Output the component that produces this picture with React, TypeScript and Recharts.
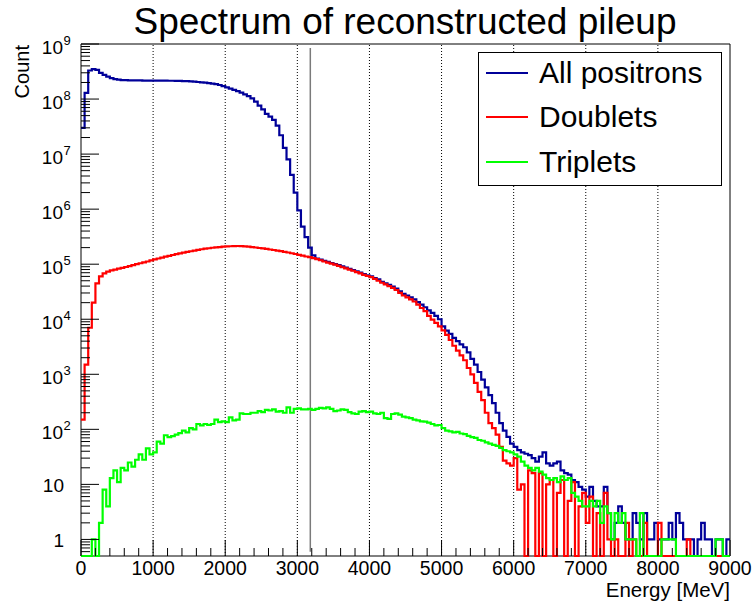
import React from 'react';
import { LineChart, Line, XAxis, YAxis, ReferenceLine, ReferenceArea, Legend } from 'recharts';

const FONT = '"Liberation Sans", Arial, Helvetica, sans-serif';
const BLUE = '#000099';
const RED = '#ff0000';
const GREEN = '#00ff00';

// 50 MeV bins from 0 to 9000 MeV
const binWidth = 50;

const allPositrons = [
  3.0e7, 1.3e8, 3.3e8, 3.5e8, 3.4e8, 3.0e8, 2.75e8, 2.55e8, 2.4e8, 2.3e8,
  2.25e8, 2.2e8, 2.2e8, 2.19e8, 2.18e8, 2.18e8, 2.18e8, 2.17e8, 2.17e8, 2.17e8,
  2.17e8, 2.16e8, 2.16e8, 2.16e8, 2.15e8, 2.15e8, 2.14e8, 2.13e8, 2.12e8, 2.11e8,
  2.09e8, 2.07e8, 2.04e8, 2.01e8, 1.98e8, 1.95e8, 1.91e8, 1.86e8, 1.8e8, 1.72e8,
  1.63e8, 1.55e8, 1.47e8, 1.39e8, 1.31e8, 1.22e8, 1.13e8, 1.03e8, 9.0e7, 7.6e7,
  6.5e7, 5.4e7, 4.8e7, 4.2e7, 3.3e7, 2.2e7, 1.3e7, 8.0e6, 4.2e6, 2.0e6,
  9.5e5, 4.8e5, 3.1e5, 2.0e5, 1.45e5, 1.27e5, 1.21e5, 1.15e5, 1.1e5, 1.05e5,
  1.0e5, 9.6e4, 9.1e4, 8.7e4, 8.2e4, 7.8e4, 7.4e4, 7.0e4, 6.6e4, 6.3e4,
  6.0e4, 5.6e4, 5.3e4, 4.8e4, 4.5e4, 4.2e4, 3.9e4, 3.6e4, 3.2e4, 2.9e4,
  2.7e4, 2.5e4, 2.3e4, 2.05e4, 1.85e4, 1.65e4, 1.45e4, 1.3e4, 1.15e4, 1.0e4,
  7.4e3, 6.2e3, 5.4e3, 4.6e3, 4.0e3, 3.5e3, 3.1e3, 2.5e3, 1.9e3, 1.5e3,
  1100, 800, 580, 420, 300, 200, 130, 95, 73, 55,
  48, 42, 38, 36, 34, 30, 26, 32, 38, 24,
  22, 24, 26, 18, 16, 15, 12, 11, 9, 8,
  6, 9, 5, 4, 4, 9, 3, 1, 2, 4,
  2, 1, 1, 3, 2, 1, 3, 1, 1, 2,
  1, 1, 1, 2, 1, 3, 2, 1, 1, 1,
  0, 1, 2, 1, 1, 0, 1, 1, 0, 1,
];

const doublets = [
  150, 1500, 7000, 2.0e4, 4.5e4, 6.0e4, 6.8e4, 7.3e4, 7.7e4, 8.0e4,
  8.3e4, 8.6e4, 8.9e4, 9.2e4, 9.6e4, 1.0e5, 1.04e5, 1.08e5, 1.12e5, 1.17e5,
  1.22e5, 1.27e5, 1.32e5, 1.37e5, 1.42e5, 1.47e5, 1.52e5, 1.57e5, 1.62e5, 1.67e5,
  1.72e5, 1.77e5, 1.82e5, 1.87e5, 1.91e5, 1.95e5, 1.99e5, 2.02e5, 2.05e5, 2.08e5,
  2.1e5, 2.12e5, 2.13e5, 2.14e5, 2.13e5, 2.11e5, 2.08e5, 2.05e5, 2.01e5, 1.97e5,
  1.93e5, 1.89e5, 1.85e5, 1.81e5, 1.77e5, 1.73e5, 1.68e5, 1.63e5, 1.58e5, 1.53e5,
  1.48e5, 1.43e5, 1.38e5, 1.34e5, 1.29e5, 1.24e5, 1.18e5, 1.12e5, 1.07e5, 1.02e5,
  9.8e4, 9.3e4, 8.8e4, 8.4e4, 8.0e4, 7.6e4, 7.2e4, 6.8e4, 6.4e4, 6.1e4,
  5.8e4, 5.4e4, 5.0e4, 4.6e4, 4.3e4, 4.0e4, 3.7e4, 3.4e4, 3.0e4, 2.7e4,
  2.5e4, 2.3e4, 2.1e4, 1.85e4, 1.6e4, 1.4e4, 1.15e4, 9.8e3, 8.6e3, 7.4e3,
  6.3e3, 5.2e3, 4.2e3, 3.3e3, 2.7e3, 2.2e3, 1.8e3, 1.3e3, 1.0e3, 700,
  480, 340, 200, 130, 105, 80, 48, 27, 24, 22,
  30, 8, 10, 0, 18, 16, 0, 16, 0, 10,
  12, 0, 7, 12, 0, 5, 11, 0, 4, 7,
  2, 6, 0, 3, 0, 7, 1, 0, 1, 0,
  0, 2, 0, 1, 0, 0, 2, 0, 0, 0,
  2, 0, 0, 0, 0, 0, 0, 0, 1, 0,
  0, 0, 0, 0, 0, 0, 0, 0, 0, 0,
];

const triplets = [
  0, 0, 0, 1, 0, 2, 8, 4, 13, 18,
  11, 20, 18, 25, 21, 28, 35, 28, 45, 35,
  38, 60, 55, 78, 72, 75, 80, 85, 95, 88,
  105, 100, 125, 118, 125, 120, 125, 150, 135, 140,
  135, 165, 145, 150, 195, 190, 190, 200, 200, 215,
  205, 225, 220, 230, 210, 215, 200, 250, 200, 235,
  240, 230, 230, 235, 225, 235, 245, 240, 250, 235,
  215, 220, 230, 225, 205, 195, 190, 210, 215, 205,
  210, 195, 190, 200, 160, 155, 190, 195, 185, 170,
  165, 160, 150, 145, 140, 138, 132, 125, 118, 120,
  105, 95, 92, 88, 90, 84, 82, 76, 72, 70,
  64, 62, 58, 55, 52, 50, 46, 42, 40, 38,
  35, 32, 26, 22, 20, 18, 20, 17, 15, 13,
  12, 13, 11, 14, 12, 13, 7, 6, 5, 4,
  4, 5, 4, 5, 2, 4, 3, 1, 3, 2,
  3, 1, 1, 1, 0, 3, 0, 0, 0, 0,
  0, 1, 1, 1, 1, 0, 0, 0, 0, 0,
  0, 0, 0, 0, 0, 0, 1, 1, 0, 0,
];

const seriesInfo = [
  { key: 'all', label: 'All positrons', color: BLUE },
  { key: 'dbl', label: 'Doublets', color: RED },
  { key: 'tri', label: 'Triplets', color: GREEN },
];

const xMin = 0;
const xMax = 9000;
const yMin = 0.5;
const yMax = 1e9;
const gridEnergies = [1000, 2000, 3000, 4000, 5000, 6000, 7000, 8000];
const cutEnergy = 3180;
const cutLineLow = 0.6;
const cutLineHigh = 8.5e8;

// x ticks every 200 MeV, labelled every 1000 MeV
const xTicks: number[] = [];
for (let v = xMin; v <= xMax; v += 200) xTicks.push(v);

// log ticks
const yTicks: number[] = [0.6, 0.7, 0.8, 0.9];
for (let e = 0; e <= 9; e++) {
  for (let m = 1; m <= 9; m++) {
    if (e === 9 && m > 1) break;
    yTicks.push(m * Math.pow(10, e));
  }
}

// zero bins are drawn at the bottom of the log axis
const floor = (v: number) => (v > 0 ? v : yMin);
const rows = allPositrons.map((_, i) => ({
  e: i * binWidth,
  all: floor(allPositrons[i]),
  dbl: floor(doublets[i]),
  tri: floor(triplets[i]),
}));
const lastIdx = allPositrons.length - 1;
rows.push({
  e: allPositrons.length * binWidth,
  all: floor(allPositrons[lastIdx]),
  dbl: floor(doublets[lastIdx]),
  tri: floor(triplets[lastIdx]),
});

const XTick = (props: any) => {
  const { x, y, payload } = props;
  const v = payload.value as number;
  const major = v % 1000 === 0;
  return (
    <g>
      <line x1={x} x2={x} y1={y} y2={y - (major ? 16 : 8)} stroke="#000" strokeWidth={1} />
      {major && (
        <text x={x} y={y + 19} textAnchor="middle" fontSize={19.5} fontFamily={FONT} fill="#000">
          {v}
        </text>
      )}
    </g>
  );
};

const YTick = (props: any) => {
  const { x, y, payload } = props;
  const v = payload.value as number;
  const lg = Math.log10(v);
  const exp = Math.round(lg);
  const major = Math.abs(lg - exp) < 1e-9;
  let label: React.ReactNode = null;
  if (major) {
    if (exp === 0 || exp === 1) {
      label = (
        <text x={x - 17} y={y + 8} textAnchor="end" fontSize={19} fontFamily={FONT} fill="#000">
          {exp === 0 ? '1' : '10'}
        </text>
      );
    } else {
      label = (
        <g>
          <text x={x - 18} y={y + 10} textAnchor="end" fontSize={19} fontFamily={FONT} fill="#000">
            10
          </text>
          <text x={x - 17.5} y={y + 1} textAnchor="start" fontSize={13} fontFamily={FONT} fill="#000">
            {String(exp)}
          </text>
        </g>
      );
    }
  }
  return (
    <g>
      <line x1={x} x2={x + (major ? 18 : 9)} y1={y} y2={y} stroke="#000" strokeWidth={1} />
      {label}
    </g>
  );
};

const XTitle = () => (
  <text x={730} y={597} textAnchor="end" fontSize={20.5} fontFamily={FONT} fill="#000">
    Energy [MeV]
  </text>
);

const YTitle = () => (
  <text
    x={29}
    y={45}
    transform="rotate(-90, 29, 45)"
    textAnchor="end"
    fontSize={20}
    fontFamily={FONT}
    fill="#000"
  >
    Count
  </text>
);

const LegendBox = () => (
  <div
    style={{
      width: 244,
      height: 134,
      border: '1px solid #000',
      background: '#fff',
      boxSizing: 'border-box',
      position: 'relative',
      fontFamily: FONT,
    }}
  >
    {seriesInfo.map((s, i) => (
      <div
        key={s.key}
        style={{
          position: 'absolute',
          left: 0,
          top: 19.7 + i * 44.5 - 20,
          height: 40,
          display: 'flex',
          alignItems: 'center',
          whiteSpace: 'nowrap',
        }}
      >
        <div style={{ marginLeft: 7, width: 42, height: 2, background: s.color }} />
        <span style={{ marginLeft: 11, fontSize: 30, lineHeight: '40px', color: '#000' }}>{s.label}</span>
      </div>
    ))}
  </div>
);

export default function App() {
  return (
    <div style={{ position: 'absolute', left: 0, top: 0, width: 754, height: 601, background: '#fff' }}>
      <LineChart
        width={754}
        height={601}
        data={rows}
        margin={{ top: 44, right: 24, bottom: 0, left: 0 }}
      >
        <XAxis
          dataKey="e"
          type="number"
          domain={[xMin, xMax]}
          ticks={xTicks}
          interval={0}
          height={45}
          tickSize={0}
          tickMargin={0}
          tickLine={false}
          axisLine={false}
          tick={XTick}
          label={<XTitle />}
        />
        <YAxis
          type="number"
          scale="log"
          domain={[yMin, yMax]}
          ticks={yTicks}
          interval={0}
          width={81}
          tickSize={0}
          tickMargin={0}
          tickLine={false}
          axisLine={false}
          tick={YTick}
          label={<YTitle />}
        />
        {gridEnergies.map((g) => (
          <ReferenceLine key={g} x={g} stroke="#000" strokeWidth={1} strokeDasharray="1 2" />
        ))}
        <ReferenceArea x1={xMin} x2={xMax} y1={yMin} y2={yMax} fill="none" fillOpacity={0} stroke="#000" strokeWidth={1} />
        <ReferenceLine
          segment={[
            { x: cutEnergy, y: cutLineLow },
            { x: cutEnergy, y: cutLineHigh },
          ]}
          stroke="#7a7a7a"
          strokeWidth={1.5}
        />
        {seriesInfo.map((s) => (
          <Line
            key={s.key}
            dataKey={s.key}
            type="stepAfter"
            stroke={s.color}
            strokeWidth={2.2}
            dot={false}
            activeDot={false}
            isAnimationActive={false}
          />
        ))}
        <Legend
          layout="vertical"
          align="center"
          verticalAlign="middle"
          wrapperStyle={{ left: 478, top: 52, width: 244, height: 134 }}
          content={() => <LegendBox />}
        />
      </LineChart>
      <div
        style={{
          position: 'absolute',
          left: 105,
          top: 3,
          width: 600,
          textAlign: 'center',
          fontFamily: FONT,
          fontSize: 37,
          lineHeight: '37px',
          color: '#000',
          whiteSpace: 'nowrap',
        }}
      >
        Spectrum of reconstructed pileup
      </div>
    </div>
  );
}
